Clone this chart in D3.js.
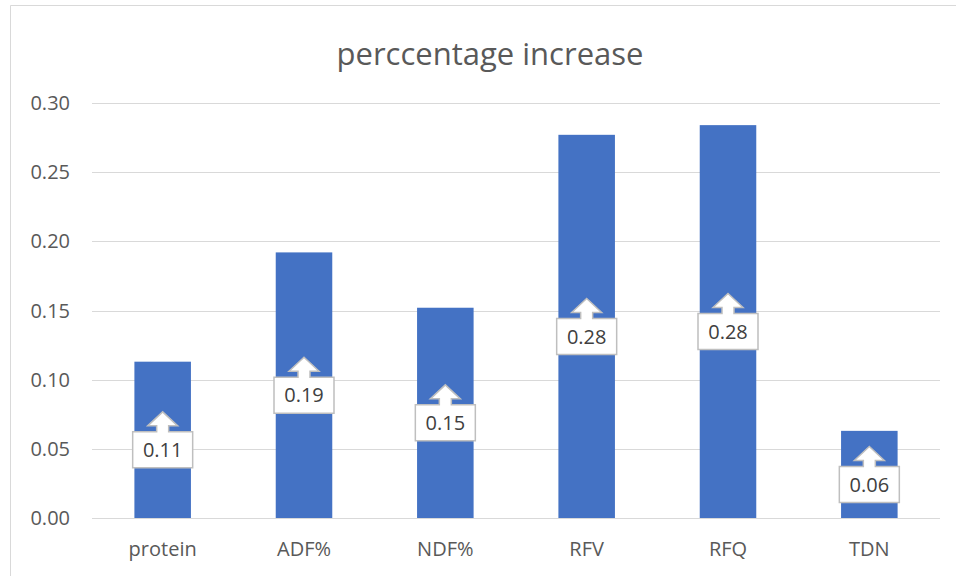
<!DOCTYPE html>
<html>
<head>
<meta charset="utf-8">
<script src="https://cdn.jsdelivr.net/npm/d3@7"></script>
<style>
  body { margin: 0; background: #fff; }
  svg { display: block; font-family: "Open Sans", sans-serif; }
</style>
</head>
<body>
<div id="chart"></div>
<script>
const categories = ["protein", "ADF%", "NDF%", "RFV", "RFQ", "TDN"];
const values = [0.113, 0.192, 0.152, 0.277, 0.284, 0.063];
const yTicks = [0, 0.05, 0.10, 0.15, 0.20, 0.25, 0.30];
const title = "perccentage increase";

const width = 956, height = 576;
const margin = { top: 103, right: 16, bottom: 58, left: 92 };
const innerWidth = width - margin.left - margin.right;
const innerHeight = height - margin.top - margin.bottom;

const svg = d3.select("#chart")
  .append("svg")
    .attr("width", width)
    .attr("height", height);

// chart frame (runs off the right and bottom edges)
svg.append("path")
    .attr("d", `M${width},5.5 H10.5 V${height}`)
    .attr("fill", "none")
    .attr("stroke", "#d9d9d9");

svg.append("text")
    .text(title)
    .attr("x", 490)
    .attr("y", 65)
    .attr("text-anchor", "middle")
    .style("font-size", "31px")
    .style("fill", "#595959");

const chart = svg.append("g")
    .attr("transform", `translate(${margin.left}, ${margin.top})`);

const xScale = d3.scaleBand()
  .domain(categories)
  .range([0, innerWidth])
  .paddingInner(0.6)
  .paddingOuter(0.3);

const yScale = d3.scaleLinear()
  .domain([0, 0.30])
  .range([innerHeight, 0]);

// gridlines
chart.selectAll("line.grid")
  .data(yTicks)
  .join("line")
    .attr("class", "grid")
    .attr("x1", 0)
    .attr("x2", innerWidth)
    .attr("y1", d => Math.round(yScale(d)) + 0.5)
    .attr("y2", d => Math.round(yScale(d)) + 0.5)
    .attr("stroke", "#d9d9d9")
    .attr("stroke-width", 1.2);

// y labels
chart.selectAll("text.ytick")
  .data(yTicks)
  .join("text")
    .attr("class", "ytick")
    .text(d => d3.format(".2f")(d))
    .attr("x", -22)
    .attr("y", d => yScale(d))
    .attr("dy", "0.35em")
    .attr("text-anchor", "end")
    .style("font-size", "20px")
    .style("fill", "#595959");

// bars
chart.selectAll("rect.bar")
  .data(categories)
  .join("rect")
    .attr("class", "bar")
    .attr("x", d => xScale(d))
    .attr("y", (d, i) => yScale(values[i]))
    .attr("width", xScale.bandwidth())
    .attr("height", (d, i) => innerHeight - yScale(values[i]))
    .attr("fill", "#4472c4");

// x labels
chart.selectAll("text.xtick")
  .data(categories)
  .join("text")
    .attr("class", "xtick")
    .text(d => d)
    .attr("x", d => xScale(d) + xScale.bandwidth() / 2)
    .attr("y", innerHeight + 38)
    .attr("text-anchor", "middle")
    .style("font-size", "20px")
    .style("fill", "#595959");

// up-arrow callouts, centred on the middle of each bar
const boxW = 60, boxH = 36, headH = 14, headW = 30, shaftW = 12, shaftH = 6;
const totalH = boxH + headH + shaftH;
const calloutPath = () => {
  const p = d3.path();
  const top = -totalH / 2;
  const boxTop = top + headH + shaftH;
  p.moveTo(-boxW / 2, boxTop);
  p.lineTo(-shaftW / 2, boxTop);
  p.lineTo(-shaftW / 2, top + headH);
  p.lineTo(-headW / 2, top + headH);
  p.lineTo(0, top);
  p.lineTo(headW / 2, top + headH);
  p.lineTo(shaftW / 2, top + headH);
  p.lineTo(shaftW / 2, boxTop);
  p.lineTo(boxW / 2, boxTop);
  p.lineTo(boxW / 2, boxTop + boxH);
  p.lineTo(-boxW / 2, boxTop + boxH);
  p.closePath();
  return p.toString();
};

const callouts = chart.selectAll("g.callout")
  .data(categories)
  .join("g")
    .attr("class", "callout")
    .attr("transform", (d, i) =>
      `translate(${xScale(d) + xScale.bandwidth() / 2}, ${yScale(values[i] / 2)})`);

callouts.append("path")
    .attr("d", calloutPath)
    .attr("fill", "#fff")
    .attr("stroke", "#bfbfbf")
    .attr("stroke-width", 1.5);

callouts.append("text")
    .text((d, i) => d3.format(".2f")(values[i]))
    .attr("x", 0)
    .attr("y", -totalH / 2 + headH + shaftH + boxH / 2)
    .attr("dy", "0.36em")
    .attr("text-anchor", "middle")
    .style("font-size", "20px")
    .style("fill", "#404040");
</script>
</body>
</html>
